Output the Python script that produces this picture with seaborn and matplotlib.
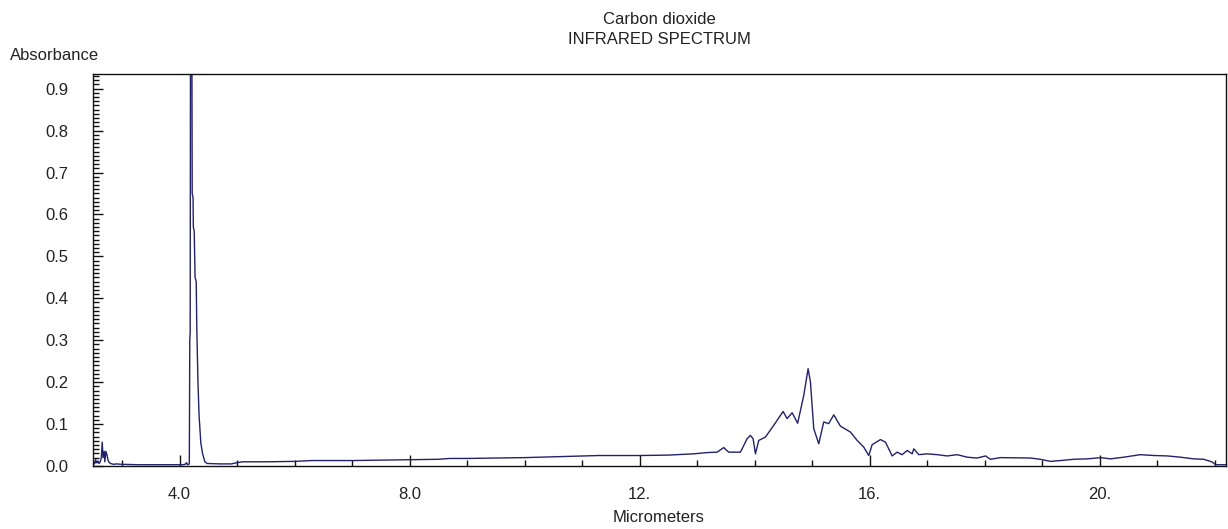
import matplotlib
matplotlib.use("Agg")
import matplotlib.pyplot as plt
import seaborn as sns
import pandas as pd
from matplotlib.ticker import MultipleLocator, FixedLocator

# ---- data ----
wavelength_um = [
    2.50, 2.52, 2.54, 2.56, 2.58, 2.60, 2.62, 2.64, 2.655, 2.67, 2.69, 2.70, 2.72, 2.74, 2.76, 2.78,
    2.80, 2.85, 2.90, 3.00, 3.30, 3.60, 3.90, 4.05, 4.10, 4.12, 4.14, 4.17,
    4.178, 4.185, 4.19, 4.20, 4.215, 4.22, 4.235, 4.24, 4.255, 4.27, 4.29, 4.30, 4.32, 4.34,
    4.37, 4.40, 4.44, 4.48, 4.70, 4.90, 5.00, 5.10, 5.50, 6.00, 6.30, 7.00, 7.50, 8.00, 8.50,
    8.70, 9.00, 9.50, 10.00, 10.50, 11.00, 11.30, 12.00, 12.50,
    12.94, 13.175, 13.35, 13.464, 13.551, 13.755, 13.871, 13.929, 13.975, 14.016, 14.073, 14.19,
    14.334, 14.497, 14.567, 14.654, 14.75, 14.856, 14.932, 14.973, 15.03, 15.117, 15.204, 15.29,
    15.378, 15.494, 15.668, 15.785, 15.90, 15.987, 16.046, 16.19, 16.277, 16.394, 16.48, 16.567,
    16.655, 16.742, 16.77, 16.857, 17.00, 17.18, 17.35, 17.525, 17.70, 17.87, 18.02, 18.10,
    18.28, 18.80, 18.97, 19.15, 19.32, 19.55, 19.79, 20.02, 20.19, 20.42, 20.71, 20.945,
    21.18, 21.41, 21.64, 21.815, 21.96, 22.02, 22.20,
]
absorbance = [
    0.010, 0.005, 0.015, 0.008, 0.012, 0.006, 0.010, 0.020, 0.057, 0.020, 0.035, 0.010, 0.035, 0.025, 0.012, 0.008,
    0.006, 0.004, 0.005, 0.004, 0.003, 0.003, 0.003, 0.003, 0.004, 0.008, 0.003, 0.005,
    0.300, 0.320, 0.970, 1.050, 0.980, 0.650, 0.640, 0.570, 0.560, 0.450, 0.440, 0.330, 0.200, 0.120,
    0.055, 0.030, 0.010, 0.006, 0.005, 0.005, 0.008, 0.010, 0.010, 0.011, 0.013, 0.013, 0.014, 0.015, 0.016,
    0.018, 0.018, 0.019, 0.020, 0.022, 0.024, 0.025, 0.025, 0.026,
    0.029, 0.032, 0.033, 0.044, 0.033, 0.033, 0.065, 0.073, 0.065, 0.029, 0.061, 0.069,
    0.097, 0.130, 0.113, 0.127, 0.102, 0.168, 0.232, 0.200, 0.089, 0.053, 0.105, 0.101,
    0.122, 0.095, 0.081, 0.061, 0.045, 0.025, 0.051, 0.063, 0.057, 0.024, 0.033, 0.027,
    0.037, 0.029, 0.041, 0.027, 0.029, 0.027, 0.024, 0.027, 0.021, 0.019, 0.024, 0.016,
    0.020, 0.019, 0.016, 0.011, 0.013, 0.016, 0.017, 0.020, 0.017, 0.021, 0.027, 0.025,
    0.024, 0.021, 0.017, 0.016, 0.0095, 0.003, 0.003,
]
x_major_ticks = [4, 8, 12, 16, 20]
x_tick_labels = ["4.0", "8.0", "12.", "16.", "20."]
y_major_ticks = [0.0, 0.1, 0.2, 0.3, 0.4, 0.5, 0.6, 0.7, 0.8, 0.9]
y_tick_labels = ["0.0", "0.1", "0.2", "0.3", "0.4", "0.5", "0.6", "0.7", "0.8", "0.9"]

df = pd.DataFrame({"Micrometers": wavelength_um, "Absorbance": absorbance})

sns.set_theme(style="white")
plt.rcParams["font.family"] = ["Liberation Sans", "DejaVu Sans"]
TXT = "#222222"
LINE = "#22226a"
FS = 12

fig = plt.figure(figsize=(12.28, 5.29), dpi=100)
ax = fig.add_axes([93.3 / 1228, 63 / 529, (1226 - 93.3) / 1228, (466 - 74) / 529])

sns.lineplot(data=df, x="Micrometers", y="Absorbance", ax=ax, color=LINE,
             linewidth=1.0, sort=False, estimator=None)

ax.set_xlim(2.5, 22.2)
ax.set_ylim(0.0, 0.935)

for s in ax.spines.values():
    s.set_color("#111111")
    s.set_linewidth(1.0)

ax.xaxis.set_major_locator(FixedLocator(x_major_ticks))
ax.set_xticklabels(x_tick_labels)
ax.xaxis.set_minor_locator(MultipleLocator(1.0))
ax.yaxis.set_major_locator(FixedLocator(y_major_ticks))
ax.set_yticklabels(y_tick_labels)
ax.yaxis.set_minor_locator(MultipleLocator(0.01))

ax.tick_params(axis="both", which="both", direction="in", color="#111111", width=1.0,
               labelcolor=TXT, labelsize=FS, bottom=True, left=True, top=False, right=False)
ax.tick_params(axis="x", which="major", length=8, pad=15)
ax.tick_params(axis="x", which="minor", length=4.5)
ax.tick_params(axis="y", which="major", length=7, pad=18)
ax.tick_params(axis="y", which="minor", length=4.5)

ax.set_xlabel("")
ax.set_ylabel("")

fig.text(659 / 1228, 1 - 20 / 529, "Carbon dioxide", ha="center", va="center",
         fontsize=FS, color=TXT)
fig.text(659 / 1228, 1 - 39 / 529, "INFRARED SPECTRUM", ha="center", va="center",
         fontsize=FS, color=TXT)
fig.text(10 / 1228, 1 - 55 / 529, "Absorbance", ha="left", va="center",
         fontsize=FS, color=TXT)
fig.text(659 / 1228, 1 - 517 / 529, "Micrometers", ha="center", va="center",
         fontsize=FS, color=TXT)

fig.savefig("out.png", dpi=100, facecolor="white")
